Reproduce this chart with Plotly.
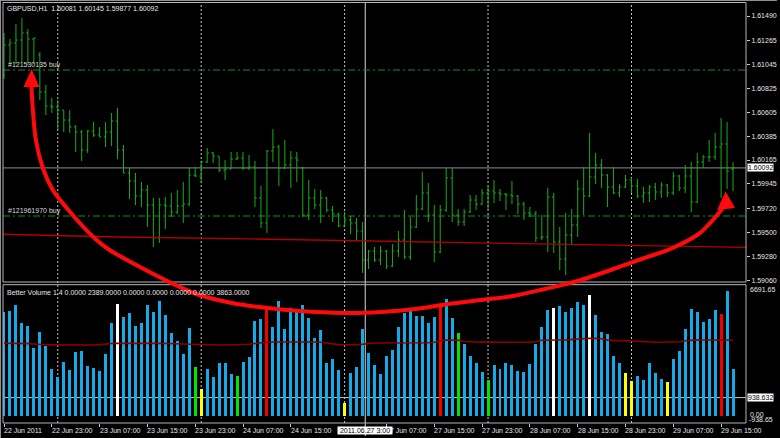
import plotly.graph_objects as go

# ---------------- data ----------------
bars = list(range(123))  # H1 bars, 22 Jun 2011 15:00 ... 29 Jun 2011

opens = [1.60947, 1.61223, 1.61242, 1.61269, 1.61334, 1.61278, 1.61131, 1.60791, 1.60662, 1.60653,
         1.60625, 1.60533, 1.60469, 1.60423, 1.60257, 1.60432, 1.60395, 1.60377, 1.60423, 1.60524,
         1.60257, 1.60046, 1.59972, 1.59834, 1.59889, 1.59751, 1.59448, 1.59751, 1.59742, 1.59687,
         1.59742, 1.59760, 1.60027, 1.60018, 1.60147, 1.60230, 1.60202, 1.60073, 1.60082, 1.60174,
         1.60184, 1.60092, 1.60101, 1.59816, 1.59586, 1.60248, 1.60285, 1.60092, 1.60119, 1.60184,
         1.60092, 1.59659, 1.59816, 1.59751, 1.59816, 1.59705, 1.59668, 1.59558, 1.59613, 1.59586,
         1.59512, 1.59245, 1.59328, 1.59245, 1.59328, 1.59190, 1.59328, 1.59429, 1.59273, 1.59549,
         1.59714, 1.59862, 1.59659, 1.59319, 1.59705, 1.60000, 1.59659, 1.59595, 1.59687, 1.59797,
         1.59760, 1.59862, 1.59880, 1.59862, 1.59852, 1.59843, 1.59834, 1.59760, 1.59678, 1.59668,
         1.59448, 1.59457, 1.59825, 1.59411, 1.59254, 1.59475, 1.59567, 1.59898, 1.59834, 1.60009,
         1.60119, 1.60027, 1.59917, 1.59862, 1.59917, 1.59981, 1.59926, 1.59834, 1.59862, 1.59917,
         1.59871, 1.59935, 1.59862, 1.60018, 1.59908, 1.60018, 1.59779, 1.60147, 1.60193, 1.60193,
         1.60285, 1.60312, 1.60081]
highs = [1.61334, 1.61278, 1.61416, 1.61472, 1.61370, 1.61288, 1.61159, 1.60855, 1.60736, 1.60717,
         1.60625, 1.60625, 1.60487, 1.60441, 1.60441, 1.60515, 1.60469, 1.60515, 1.60598, 1.60644,
         1.60303, 1.60092, 1.60046, 1.59963, 1.59935, 1.59816, 1.59816, 1.59825, 1.59862, 1.59889,
         1.59963, 1.60092, 1.60101, 1.60156, 1.60276, 1.60239, 1.60202, 1.60165, 1.60239, 1.60239,
         1.60239, 1.60211, 1.60156, 1.59926, 1.60257, 1.60450, 1.60303, 1.60349, 1.60248, 1.60239,
         1.60101, 1.59981, 1.59898, 1.59889, 1.59825, 1.59742, 1.59678, 1.59687, 1.59650, 1.59632,
         1.59595, 1.59337, 1.59365, 1.59374, 1.59337, 1.59392, 1.59512, 1.59705, 1.59641, 1.59843,
         1.60055, 1.59954, 1.59751, 1.59751, 1.60092, 1.60092, 1.59714, 1.59714, 1.59843, 1.59843,
         1.59898, 1.59926, 1.59981, 1.59898, 1.59862, 1.59972, 1.59843, 1.59779, 1.59733, 1.59696,
         1.59659, 1.59908, 1.59862, 1.59549, 1.59678, 1.59714, 1.59981, 1.60101, 1.60414, 1.60230,
         1.60174, 1.60036, 1.60101, 1.59944, 1.60027, 1.60000, 1.59990, 1.59917, 1.59935, 1.59954,
         1.59963, 1.59944, 1.60055, 1.60027, 1.60119, 1.60147, 1.60230, 1.60211, 1.60349, 1.60414,
         1.60552, 1.60515, 1.60145]
lows = [1.60910, 1.61048, 1.61048, 1.61067, 1.61039, 1.61048, 1.60717, 1.60579, 1.60598, 1.60441,
        1.60423, 1.60414, 1.60239, 1.60156, 1.60230, 1.60377, 1.60377, 1.60285, 1.60294, 1.60174,
        1.60046, 1.59806, 1.59751, 1.59733, 1.59549, 1.59365, 1.59402, 1.59530, 1.59641, 1.59668,
        1.59586, 1.59742, 1.60009, 1.59954, 1.60138, 1.60138, 1.60055, 1.59981, 1.60082, 1.60165,
        1.60073, 1.60073, 1.59733, 1.59540, 1.59494, 1.60147, 1.59926, 1.60082, 1.59908, 1.59963,
        1.59641, 1.59613, 1.59714, 1.59586, 1.59687, 1.59595, 1.59549, 1.59558, 1.59484, 1.59429,
        1.59126, 1.59162, 1.59227, 1.59199, 1.59162, 1.59181, 1.59273, 1.59254, 1.59245, 1.59540,
        1.59705, 1.59595, 1.59227, 1.59310, 1.59687, 1.59595, 1.59558, 1.59558, 1.59678, 1.59705,
        1.59751, 1.59714, 1.59770, 1.59788, 1.59705, 1.59760, 1.59668, 1.59613, 1.59641, 1.59411,
        1.59429, 1.59319, 1.59310, 1.59153, 1.59107, 1.59383, 1.59457, 1.59659, 1.59825, 1.59944,
        1.59908, 1.59733, 1.59852, 1.59825, 1.59908, 1.59862, 1.59816, 1.59770, 1.59779, 1.59797,
        1.59816, 1.59825, 1.59843, 1.59880, 1.59862, 1.59687, 1.59770, 1.60092, 1.60147, 1.60165,
        1.59816, 1.59898, 1.59877]
closes = [1.61223, 1.61242, 1.61269, 1.61334, 1.61278, 1.61288, 1.60791, 1.60662, 1.60653, 1.60625,
          1.60533, 1.60469, 1.60423, 1.60257, 1.60432, 1.60395, 1.60377, 1.60423, 1.60524, 1.60257,
          1.60046, 1.59972, 1.59834, 1.59889, 1.59751, 1.59448, 1.59751, 1.59742, 1.59687, 1.59742,
          1.59760, 1.60027, 1.60018, 1.60147, 1.60230, 1.60202, 1.60073, 1.60082, 1.60174, 1.60184,
          1.60092, 1.60101, 1.59816, 1.59586, 1.60248, 1.60285, 1.60092, 1.60119, 1.60184, 1.60165,
          1.59659, 1.59816, 1.59751, 1.59816, 1.59705, 1.59668, 1.59558, 1.59613, 1.59586, 1.59512,
          1.59245, 1.59328, 1.59245, 1.59328, 1.59190, 1.59328, 1.59429, 1.59273, 1.59549, 1.59714,
          1.59862, 1.59659, 1.59319, 1.59705, 1.60000, 1.59659, 1.59595, 1.59687, 1.59797, 1.59760,
          1.59862, 1.59880, 1.59862, 1.59852, 1.59843, 1.59834, 1.59760, 1.59678, 1.59668, 1.59448,
          1.59457, 1.59825, 1.59411, 1.59254, 1.59475, 1.59567, 1.59898, 1.59834, 1.60009, 1.60119,
          1.60027, 1.59917, 1.59862, 1.59917, 1.59981, 1.59926, 1.59834, 1.59862, 1.59917, 1.59871,
          1.59935, 1.59862, 1.60018, 1.59908, 1.60018, 1.59779, 1.60147, 1.60193, 1.60193, 1.60285,
          1.60312, 1.60064, 1.60092]

volume = [5319, 5370, 5646, 4728, 4605, 3453, 4269, 3585, 2397, 1974,
          2769, 2346, 3279, 3315, 2565, 2433, 2310, 3147, 4728, 5712,
          5034, 5268, 4590, 4758, 5661, 5319, 5865, 5151, 4248, 3825,
          3162, 4473, 2499, 1377, 2397, 2004, 2718, 2718, 2142, 2040,
          2754, 2994, 4845, 4947, 5544, 4554, 5865, 4422, 5493, 5289,
          5661, 4983, 3963, 4386, 2718, 2892, 2346, 648, 2178, 2484,
          4422, 3228, 2601, 2142, 3060, 3366, 4524, 5268, 5493, 5100,
          5115, 4728, 5064, 5544, 5967, 4983, 4218, 3672, 3060, 2718,
          2229, 1836, 2601, 2397, 2718, 2601, 2310, 2229, 2652, 3672,
          4524, 5406, 5508, 5625, 5289, 5493, 5799, 5661, 6171, 5136,
          4299, 4182, 3060, 2718, 2178, 1785, 2040, 1836, 2688, 2178,
          1902, 1734, 2907, 3330, 4437, 5472, 5304, 4809, 4932, 5406,
          5202, 6375, 2389]

volume_avg = [3710, 3712, 3705, 3700, 3690, 3670,
              3640, 3630, 3625, 3620, 3620, 3622, 3625, 3620, 3618, 3622, 3640,
              3680, 3700, 3708, 3712, 3715, 3710, 3712, 3715, 3710, 3705, 3700, 3690, 3680, 3660,
              3640, 3630, 3622, 3620, 3618, 3620, 3622, 3625, 3620, 3630, 3660, 3700, 3740, 3760,
              3775, 3778, 3780, 3775, 3772, 3770, 3775, 3770, 3760, 3720,
              3660, 3640, 3635, 3630, 3635, 3660,
              3700, 3720, 3725, 3722, 3720, 3718, 3722, 3725, 3730, 3728, 3735, 3760,
              3840, 3870, 3880, 3860,
              3800, 3775, 3770, 3765, 3760, 3758, 3760, 3762, 3758, 3760, 3762, 3765, 3790,
              3860, 3875, 3880, 3878, 3880, 3900,
              3950, 3965, 3968, 3960, 3940,
              3870, 3845, 3840, 3838, 3820,
              3780, 3762, 3760, 3758, 3760, 3762, 3765, 3790,
              3840, 3870, 3880, 3876, 3878, 3880, 3878, 3870, 3863]

white_bars = [19, 92, 98]          # climax
red_bars = [44, 73, 120]           # high volume churn / climax
green_bars = [32, 39, 76, 81]      # churn
yellow_bars = [33, 57, 104, 105, 111]  # low volume

volume_level = 938.632
bid_price = 1.60092
orders = [("#121530135 buy", 1.60993), ("#121961970 buy", 1.59650)]

slow_ma_x = [-0.2, 19, 41, 62, 84, 106, 124.2]
slow_ma_price = [1.59482, 1.59457, 1.59439, 1.59421, 1.59402, 1.59381, 1.59362]

price_ticks = [1.61490, 1.61265, 1.61045, 1.60825, 1.60605, 1.60385,
               1.60165, 1.59945, 1.59720, 1.59500, 1.59280, 1.59060]

day_lines = [9, 33, 57, 81, 105]
cursor_bar = 60.45
cursor_label = "2011.06.27 3:00"

xlab_idx = [0, 8, 16, 24, 32, 40, 48, 64, 72, 80, 88, 96, 104, 112, 120]
xlab_txt = ["22 Jun 2011", "22 Jun 23:00", "23 Jun 07:00", "23 Jun 15:00", "23 Jun 23:00",
            "24 Jun 07:00", "24 Jun 15:00", "27 Jun 07:00", "27 Jun 15:00",
            "27 Jun 23:00", "28 Jun 07:00", "28 Jun 15:00", "28 Jun 23:00", "29 Jun 07:00",
            "29 Jun 15:00"]

header = "GBPUSD,H1\u00a0\u00a01.60081 1.60145 1.59877 1.60092"
vol_header = "Better Volume 1.4 0.0000 2389.0000 0.0000 0.0000 0.0000 0.0000 3863.0000"

# ---------------- layout geometry (pixels of the 780x438 window) ----------------
W, H = 780, 438
PX0, PX1 = 3, 749
PY0, PY1 = 3, 423


def px(x):
    return (x - PX0) / (PX1 - PX0)


def py(y):
    return (PY1 - y) / (PY1 - PY0)


FONT = "Liberation Sans, Arial, sans-serif"
TXT = "#e6e6e6"
FS = 7

BLUE, WHITE, RED, GREEN, YELLOW = "#14aae8", "#ffffff", "#f20000", "#00e400", "#ffff00"
colors = []
for i in bars:
    c = BLUE
    if i in white_bars:
        c = WHITE
    elif i in red_bars:
        c = RED
    elif i in green_bars:
        c = GREEN
    elif i in yellow_bars:
        c = YELLOW
    colors.append(c)

fig = go.Figure()
fig.add_trace(go.Ohlc(
    x=bars, open=opens, high=highs, low=lows, close=closes,
    increasing=dict(line=dict(color="#1aab1a", width=1)),
    decreasing=dict(line=dict(color="#1aab1a", width=1)),
    tickwidth=0.3, xaxis="x", yaxis="y", hoverinfo="skip", showlegend=False))
fig.add_trace(go.Scatter(
    x=slow_ma_x, y=slow_ma_price, mode="lines",
    line=dict(color="#b40000", width=1.3), xaxis="x", yaxis="y",
    hoverinfo="skip", showlegend=False))
fig.add_trace(go.Bar(
    x=bars, y=volume, marker=dict(color=colors, line=dict(width=0)), width=0.5,
    xaxis="x", yaxis="y2", hoverinfo="skip", showlegend=False))
fig.add_trace(go.Scatter(
    x=bars, y=volume_avg, mode="lines", line=dict(color="#8a0000", width=1.6),
    xaxis="x", yaxis="y2", hoverinfo="skip", showlegend=False))

shapes = []
for d in day_lines:
    shapes.append(dict(type="line", xref="x", yref="paper", x0=d, x1=d, y0=0, y1=1,
                       line=dict(color="#c8c8c8", width=1, dash="2px,2px"), layer="below"))
shapes.append(dict(type="line", xref="x", yref="paper", x0=cursor_bar, x1=cursor_bar,
                   y0=py(436), y1=1, line=dict(color="#d8d8d8", width=1), layer="below"))
for _, lvl in orders:
    shapes.append(dict(type="line", xref="paper", yref="y", x0=0, x1=1, y0=lvl, y1=lvl,
                       line=dict(color="#1a8c1a", width=1.2, dash="7px,3px,2px,3px"), layer="below"))
shapes.append(dict(type="line", xref="paper", yref="y", x0=0, x1=1, y0=bid_price, y1=bid_price,
                   line=dict(color="#6c7076", width=1.3), layer="below"))
shapes.append(dict(type="line", xref="paper", yref="y2", x0=0, x1=1, y0=volume_level, y1=volume_level,
                   line=dict(color="#c8c8c8", width=1), layer="below"))
shapes.append(dict(type="rect", xref="paper", yref="paper", x0=0, x1=1, y0=py(282), y1=py(2.5),
                   line=dict(color="#b4b4b4", width=1)))
shapes.append(dict(type="rect", xref="paper", yref="paper", x0=0, x1=1, y0=0, y1=py(284.7),
                   line=dict(color="#b4b4b4", width=1)))
# outer window frame line at the top-left
shapes.append(dict(type="line", xref="paper", yref="paper", x0=px(0), x1=px(780), y0=py(0.5), y1=py(0.5),
                   line=dict(color="#909090", width=1)))
shapes.append(dict(type="line", xref="paper", yref="paper", x0=px(0.5), x1=px(0.5), y0=py(438), y1=py(0),
                   line=dict(color="#909090", width=1)))

# hand drawn red arrow (decoration), pixel points of the stroke
stroke = [(31.5, 86), (33, 110), (36, 140), (43, 168), (53, 190), (67, 208), (80, 223),
          (97, 240), (110, 250), (133, 263), (170, 282), (200, 295), (233, 303), (260, 307),
          (300, 311), (347, 313), (383, 312), (417, 309), (450, 304), (483, 300), (515, 296),
          (547, 289), (580, 281), (613, 270), (647, 258), (673, 249), (700, 235), (713, 223),
          (726, 208)]


def catmull(pts):
    n = len(pts)
    out = "M %.5f,%.5f" % (px(pts[0][0]), py(pts[0][1]))
    for i in range(n - 1):
        p0 = pts[i - 1] if i > 0 else pts[i]
        p1, p2 = pts[i], pts[i + 1]
        p3 = pts[i + 2] if i + 2 < n else pts[i + 1]
        c1 = (p1[0] + (p2[0] - p0[0]) / 6, p1[1] + (p2[1] - p0[1]) / 6)
        c2 = (p2[0] - (p3[0] - p1[0]) / 6, p2[1] - (p3[1] - p1[1]) / 6)
        out += " C %.5f,%.5f %.5f,%.5f %.5f,%.5f" % (px(c1[0]), py(c1[1]), px(c2[0]), py(c2[1]),
                                                   px(p2[0]), py(p2[1]))
    return out


def tri(a, b, c):
    return "M %.5f,%.5f L %.5f,%.5f L %.5f,%.5f Z" % (px(a[0]), py(a[1]), px(b[0]), py(b[1]),
                                                    px(c[0]), py(c[1]))


shapes.append(dict(type="path", xref="paper", yref="paper", path=catmull(stroke),
                   line=dict(color="#ff0a0a", width=4), layer="above"))
shapes.append(dict(type="path", xref="paper", yref="paper", path=tri((31.7, 69), (23.5, 87), (39.5, 87)),
                   fillcolor="#ff0a0a", line=dict(width=0), layer="above"))
shapes.append(dict(type="path", xref="paper", yref="paper", path=tri((728.5, 191.5), (720, 210), (738, 208)),
                   fillcolor="#ff0a0a", line=dict(width=0), layer="above"))

ann = []


def text(x, y, s, xref="paper", yref="paper", color=TXT, bg=None, xanchor="left", size=FS, xshift=0,
         yshift=0):
    d = dict(x=x, y=y, xref=xref, yref=yref, text=s, showarrow=False, xanchor=xanchor,
             yanchor="middle", font=dict(family=FONT, size=size, color=color), borderpad=0,
             xshift=xshift, yshift=yshift)
    if bg:
        d["bgcolor"] = bg
    ann.append(d)


text(px(6), py(9), header)
for name, lvl in orders:
    text(px(7), lvl, name, yref="y", color="#d8d8d8", yshift=5)
text(px(6), py(292), vol_header)
text(px(752), py(289), "6691.65")
text(px(752.5), py(414), "0.00")
text(px(751), py(419), "-938.65")
text(px(750), volume_level, "938.632", yref="y2", color="#000000", bg="#ffffff")
text(px(750), bid_price, "1.60092", yref="y", color="#000000", bg="#ffffff")
for i, s in zip(xlab_idx, xlab_txt):
    text(i, py(430.5), s, xref="x", xshift=-1)
text(cursor_bar, py(430.5), "\u00a0" + cursor_label + "\u00a0", xref="x", color="#000000",
     bg="#ffffff", xanchor="center")

fig.update_layout(
    width=W, height=H,
    margin=dict(l=PX0, r=W - PX1, t=PY0, b=H - PY1, pad=0),
    paper_bgcolor="#000000", plot_bgcolor="#000000",
    showlegend=False, bargap=0,
    xaxis=dict(domain=[0, 1], range=[(PX0 - 4) / 6, (PX1 - 4) / 6], anchor="y2",
               showgrid=False, zeroline=False, showline=False, showticklabels=False,
               tickvals=xlab_idx, ticks="outside", ticklen=3, tickcolor="#c8c8c8",
               rangeslider=dict(visible=False), fixedrange=True),
    yaxis=dict(domain=[py(282), 1], range=[1.616372 - 0.000092 * 282, 1.616372 - 0.000092 * 3],
               side="right", anchor="x", showgrid=False, zeroline=False, showline=False,
               tickvals=price_ticks, ticktext=["%.5f" % v for v in price_ticks],
               ticks="outside", ticklen=3, tickcolor="#c8c8c8",
               tickfont=dict(family=FONT, size=FS, color=TXT), fixedrange=True),
    yaxis2=dict(domain=[0, py(284.7)], range=[-357, 6696], anchor="x", showgrid=False,
                zeroline=False, showline=False, showticklabels=False, fixedrange=True),
    shapes=shapes, annotations=ann,
)

fig.write_html(
    "out.html",
    config={"displayModeBar": False, "staticPlot": True},
    post_script="document.body.style.margin='0px';document.body.style.padding='0px';"
                "document.body.style.background='#000';"
                "document.documentElement.style.overflow='hidden';",
)
